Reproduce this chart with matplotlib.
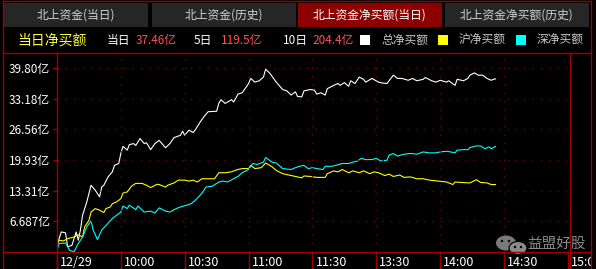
import matplotlib.pyplot as plt
import matplotlib.patches as ptc
from matplotlib.transforms import offset_copy, Bbox

plt.rcParams['font.family'] = ['Noto Sans CJK SC', 'DejaVu Sans']

# --- data (minutes since 9:30, value in 亿) ---
t_total = [0, 2, 4, 5, 7, 9, 10, 11, 12, 14, 16, 18, 20, 21, 22, 24, 26, 27, 29, 30,
           31, 33, 34, 36, 37, 39, 41, 42, 44, 46, 48, 51, 53, 55, 58, 59, 60, 62, 64, 65,
           67, 69, 71, 75, 76, 77, 79, 82, 83, 85, 87, 89, 90, 91, 93, 95, 97, 98, 100, 103,
           106, 108, 110, 112, 113, 115, 116, 119, 121, 122, 124, 126, 127, 130, 132, 133, 135, 137, 138, 140,
           142, 144, 145, 148, 151, 153, 155, 158, 160, 162, 165, 167, 169, 172, 173, 176, 178, 180, 183, 184,
           187, 188, 191, 193, 194, 196, 198, 200, 202, 204, 205, 206]
v_total = [1.5, 4.4, 4.2, 1.2, 1.5, 4.4, 2.6, 4.8, 8.0, 10.9, 14.5, 13.4, 12.0, 14.1, 14.5, 16.3, 17.4, 18.8, 19.2, 21.4,
           22.9, 22.1, 23.3, 23.5, 23.1, 24.6, 23.5, 23.7, 22.2, 23.5, 24.2, 22.6, 23.5, 24.8, 25.3, 26.2, 25.3, 26.4, 25.9, 26.5,
           28.0, 29.3, 30.4, 30.5, 32.2, 33.0, 32.2, 33.0, 32.5, 34.2, 34.5, 35.8, 36.5, 37.6, 36.8, 37.1, 37.9, 39.6, 38.7, 36.8,
           35.2, 34.9, 34.0, 34.7, 33.7, 33.6, 34.9, 35.2, 35.05, 34.2, 34.5, 34.0, 35.4, 36.1, 36.5, 36.1, 36.7, 35.9, 37.1, 36.5,
           37.9, 37.4, 36.8, 37.6, 36.8, 36.6, 36.5, 38.3, 37.6, 37.6, 37.2, 37.6, 37.1, 37.4, 37.8, 37.1, 36.8, 37.2, 36.8, 37.1,
           36.1, 37.4, 37.1, 37.6, 38.3, 38.8, 38.3, 38.3, 37.6, 37.2, 37.4, 37.5]

t_sh = [0, 1, 3, 5, 8, 10, 12, 13, 15, 16, 18, 20, 22, 23, 25, 26, 28, 30, 31, 33,
        35, 37, 40, 42, 44, 47, 48, 51, 52, 55, 57, 60, 62, 64, 66, 68, 72, 74, 76, 79,
        82, 83, 85, 87, 90, 91, 93, 96, 98, 101, 103, 106, 109, 112, 115, 116, 119, 122, 126, 127,
        130, 132, 134, 137, 139, 142, 144, 147, 149, 151, 154, 156, 158, 161, 163, 166, 169, 172, 175, 179,
        183, 186, 187, 190, 194, 197, 199, 202, 204, 206]
v_sh = [1.5, 2.6, 2.45, 2.95, 3.3, 3.8, 3.3, 5.5, 6.9, 8.7, 9.45, 9.1, 8.6, 9.45, 9.8, 10.5, 10.9, 11.6, 12.8, 13.05,
        14.3, 14.9, 14.9, 14.5, 14.0, 14.7, 14.65, 14.1, 14.5, 15.0, 15.6, 15.6, 15.4, 15.6, 15.2, 15.9, 15.9, 15.9, 17.2, 17.2,
        17.4, 17.6, 17.9, 18.1, 18.1, 18.8, 18.1, 18.3, 19.3, 18.5, 17.7, 17.0, 16.7, 16.4, 16.1, 16.5, 16.4, 16.2, 16.2, 17.0,
        17.6, 17.4, 17.9, 17.2, 17.6, 17.2, 17.6, 17.0, 17.4, 17.2, 16.6, 16.9, 16.4, 16.7, 16.2, 16.3, 15.9, 15.9, 15.6, 15.4,
        15.2, 14.65, 15.2, 15.1, 15.0, 15.7, 15.1, 15.0, 14.65, 14.65]

t_sz = [0, 1, 4, 6, 8, 10, 12, 13, 14, 16, 17, 19, 21, 23, 26, 28, 30, 31, 33, 34,
        37, 38, 41, 44, 46, 48, 51, 53, 56, 58, 61, 63, 65, 68, 70, 73, 76, 78, 80, 83,
        85, 87, 90, 92, 94, 97, 98, 101, 103, 106, 110, 112, 114, 116, 118, 120, 122, 125, 126, 129,
        131, 134, 137, 139, 141, 143, 145, 148, 150, 152, 155, 156, 158, 160, 162, 165, 167, 169, 172, 175,
        178, 180, 183, 185, 187, 188, 191, 193, 194, 197, 199, 201, 203, 204, 206]
v_sz = [0.4, 1.9, 2.0, 0.4, 0.1, 1.9, 3.3, 4.4, 5.5, 6.8, 4.8, 2.75, 4.8, 5.8, 7.3, 8.0, 8.7, 10.0, 9.45, 10.2,
        9.2, 10.0, 8.7, 8.9, 8.5, 9.6, 8.9, 8.7, 9.45, 9.8, 10.2, 10.5, 11.25, 12.7, 14.1, 14.3, 15.2, 15.4, 15.2, 15.9,
        16.4, 17.2, 17.9, 19.2, 19.0, 19.5, 20.5, 19.5, 19.3, 18.1, 17.9, 18.3, 18.6, 18.8, 18.1, 18.3, 18.1, 17.9, 18.6, 18.6,
        18.8, 19.2, 19.2, 19.5, 19.7, 20.3, 20.05, 20.05, 20.3, 19.75, 19.9, 21.0, 21.35, 20.8, 21.1, 21.35, 21.35, 21.2, 21.7, 21.5,
        21.5, 21.7, 21.85, 21.7, 21.5, 22.1, 22.2, 22.2, 22.65, 23.0, 23.0, 22.4, 22.8, 22.4, 22.9]

y_ticks = [6.687, 13.31, 19.93, 26.56, 33.18, 39.80]
y_labels = ['6.687亿', '13.31亿', '19.93亿', '26.56亿', '33.18亿', '39.80亿']
x_ticks = [0, 30, 60, 90, 120, 150, 180, 210, 240]
x_labels = ['12/29', '10:00', '10:30', '11:00', '11:30', '13:30', '14:00', '14:30', '15:00']

tabs = ['北上资金(当日)', '北上资金(历史)', '北上资金净买额(当日)', '北上资金净买额(历史)']
summary = [('当日', '37.46亿'), ('5日', '119.5亿'), ('10日', '204.4亿')]
legend_names = ['总净买额', '沪净买额', '深净买额']

RED = '#a00000'
GRID = '#7a0000'
W, H = 596, 269

fig = plt.figure(figsize=(W / 100, H / 100), dpi=100, facecolor='black')

# --- main chart ---
ax = fig.add_axes([57 / W, (H - 252) / H, (570 - 57) / W, (252 - 53) / H])
ax.set_facecolor('black')
ax.plot(t_total, v_total, color='white', lw=0.8)
ax.plot(t_sh, v_sh, color='#ffff00', lw=0.8)
ax.plot(t_sz, v_sz, color='#00ffff', lw=0.8)
ax.set_xlim(0, 241)
ax.set_ylim(0.06, 43.1)
for s in ax.spines.values():
    s.set_visible(False)

ax.set_yticks(y_ticks)
ax.set_yticklabels(y_labels)
ax.tick_params(axis='y', colors=RED, length=3, width=1, pad=2, labelcolor='white', labelsize=8.5)
ax.set_xticks([])

# dotted grid
for y in y_ticks:
    ax.axhline(y, color=GRID, lw=1, ls=(0, (1, 5)))
for x in x_ticks[1:-1]:
    ax.axvline(x, color=GRID, lw=1, ls=(0, (1, 5)))

# x labels with separator lines in the bottom strip (cut at the outer frame, as in the app)
frame_clip = Bbox.from_extents(0, 0, 591, H)
xt = ax.get_xaxis_transform()
lab_tr = offset_copy(xt, fig=fig, x=3, y=0, units='dots')
for x, lab in zip(x_ticks, x_labels):
    ax.plot([x, x], [0, -0.09], color=RED, lw=1, transform=xt, clip_on=False)
    t = ax.text(x, -0.052, lab, color='white', fontsize=9, ha='left', va='center',
                transform=lab_tr, clip_on=True)
    t.set_clip_box(frame_clip)

# --- overlay in pixel coordinates ---
ov = fig.add_axes([0, 0, 1, 1], zorder=5)
ov.set_xlim(0, W)
ov.set_ylim(H, 0)
ov.patch.set_alpha(0)
ov.axis('off')

# frame lines
ov.plot([3, 3], [1, H], color=RED, lw=1)
ov.plot([591, 591], [1, H], color=RED, lw=1)
ov.plot([3, 591], [1, 1], color=RED, lw=1)
ov.plot([3, 591], [52.5, 52.5], color=RED, lw=1)
ov.plot([3, 591], [252, 252], color=RED, lw=1)
ov.plot([57, 57], [52.5, H], color=RED, lw=1)
ov.plot([570, 570], [52.5, H], color=RED, lw=1)

# tabs
tab_x = [4, 151.5, 298, 445]
for i, (x0, name) in enumerate(zip(tab_x, tabs)):
    active = i == 2
    ov.add_patch(ptc.Rectangle((x0, 3), 144, 24, facecolor='#8c0000' if active else '#262626',
                               edgecolor='none'))
    ov.text(x0 + 72, 15.5, name, color='white' if active else '#d0d0d0', fontsize=8.5,
            ha='center', va='center')

# summary row
ov.text(17, 40.5, '当日净买额', color='#ffff33', fontsize=10, ha='left', va='center')
sum_x = [(107, 136), (194, 221), (283, 312)]
for (lx, vx), (lab, val) in zip(sum_x, summary):
    ov.text(lx, 40.5, lab, color='white', fontsize=8.5, ha='left', va='center')
    ov.text(vx, 40.5, val, color='#ff5050', fontsize=8.5, ha='left', va='center')

leg_x = [360, 438, 516]
for x0, name, c in zip(leg_x, legend_names, ['white', '#ffff00', '#00ffff']):
    ov.add_patch(ptc.Rectangle((x0, 35), 10, 10, facecolor=c, edgecolor='none'))
    ov.text(x0 + 21, 40.5, name, color='#c8c8c8', fontsize=8.5, ha='left', va='center')

# watermark
ov.add_patch(ptc.Ellipse((506, 243), 20, 15, facecolor='#7a7a7a', edgecolor='none'))
ov.add_patch(ptc.Ellipse((518, 248), 18, 13, facecolor='#8a8a8a', edgecolor='black', lw=0.8))
for ex, ey in [(502, 241), (509, 241), (515, 247), (521, 247)]:
    ov.add_patch(ptc.Circle((ex, ey), 1.2, facecolor='black', edgecolor='none'))
ov.text(527, 244, '益盟好股', color='#8a8a8a', fontsize=10.5, ha='left', va='center')

fig.savefig('out.png', dpi=100, facecolor='black')
